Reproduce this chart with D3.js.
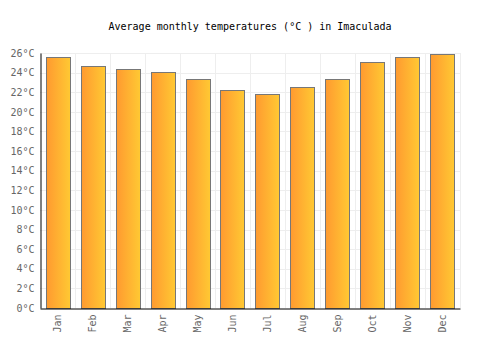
<!DOCTYPE html>
<html>
<head>
<meta charset="utf-8">
<script src="https://cdn.jsdelivr.net/npm/d3@7"></script>
<style>
  body { margin: 0; background: #fff; }
  text { font-family: "DejaVu Sans Mono", monospace; }
</style>
</head>
<body>
<div id="chart"></div>
<script>
var months = ["Jan", "Feb", "Mar", "Apr", "May", "Jun", "Jul", "Aug", "Sep", "Oct", "Nov", "Dec"]
var temps = [25.6, 24.7, 24.4, 24.1, 23.4, 22.2, 21.8, 22.5, 23.4, 25.1, 25.6, 25.9]
var yTicks = [0, 2, 4, 6, 8, 10, 12, 14, 16, 18, 20, 22, 24, 26]

var width = 500, height = 350
var margin = { top: 53, right: 40, bottom: 42, left: 40 }

var svg = d3.select("#chart")
    .append("svg")
    .attr("width", width)
    .attr("height", height)

var defs = svg.append("defs")
var grad = defs.append("linearGradient")
    .attr("id", "barGrad")
    .attr("x1", "0%").attr("x2", "100%")
    .attr("y1", "0%").attr("y2", "0%")
grad.append("stop").attr("offset", "0%").attr("stop-color", "#ff9a30")
grad.append("stop").attr("offset", "100%").attr("stop-color", "#ffc933")

var x = d3.scaleBand()
    .domain(months)
    .range([margin.left, width - margin.right])
    .paddingInner(0.31)
    .paddingOuter(0.17)

var y = d3.scaleLinear()
    .domain([0, 26])
    .range([height - margin.bottom, margin.top])

// grid
var xEdges = d3.range(months.length + 1).map(function (i) {
    return margin.left + i * (width - margin.left - margin.right) / months.length
})
svg.append("g")
    .selectAll("line")
    .data(xEdges.slice(1))
    .enter()
    .append("line")
    .attr("x1", function (d) { return d + 0.5 })
    .attr("x2", function (d) { return d + 0.5 })
    .attr("y1", margin.top)
    .attr("y2", height - margin.bottom)
    .attr("stroke", "#eeeeee")

svg.append("g")
    .selectAll("line")
    .data(yTicks.slice(1))
    .enter()
    .append("line")
    .attr("x1", margin.left)
    .attr("x2", width - margin.right)
    .attr("y1", function (d) { return Math.round(y(d)) + 0.5 })
    .attr("y2", function (d) { return Math.round(y(d)) + 0.5 })
    .attr("stroke", "#eeeeee")

// bars
svg.append("g")
    .selectAll("rect")
    .data(temps)
    .enter()
    .append("rect")
    .attr("x", function (d, i) { return Math.round(x(months[i])) + 0.5 })
    .attr("y", function (d) { return Math.round(y(d)) + 0.5 })
    .attr("width", Math.round(x.bandwidth()))
    .attr("height", function (d) { return Math.round(y(0)) - Math.round(y(d)) })
    .attr("fill", "url(#barGrad)")
    .attr("stroke", "#777777")
    .attr("stroke-width", 1)

// axes
var yAxis = svg.append("g")
    .attr("transform", "translate(" + (margin.left + 0.5) + ",0)")
    .call(d3.axisLeft(y).tickValues(yTicks).tickSize(0).tickPadding(6)
        .tickFormat(function (d) { return d + "°C" }))
yAxis.select(".domain").attr("stroke", "#000")
yAxis.selectAll("text").attr("fill", "#666").style("font-size", "10px")
    .style("font-family", "DejaVu Sans Mono, monospace")

var xAxis = svg.append("g")
    .attr("transform", "translate(0," + (y(0) + 0.5) + ")")
    .call(d3.axisBottom(x).tickSize(0).tickPadding(0))
xAxis.select(".domain").attr("stroke", "#000")
xAxis.selectAll("text")
    .attr("fill", "#666")
    .style("font-size", "10px")
    .style("font-family", "DejaVu Sans Mono, monospace")
    .attr("text-anchor", "end")
    .attr("transform", "rotate(-90)")
    .attr("x", -6)
    .attr("y", 0)
    .attr("dy", "0.35em")

svg.append("text")
    .attr("x", 250)
    .attr("y", 30)
    .attr("text-anchor", "middle")
    .style("font-size", "10px")
    .attr("fill", "#000")
    .text("Average monthly temperatures (°C ) in Imaculada")
</script>
</body>
</html>
